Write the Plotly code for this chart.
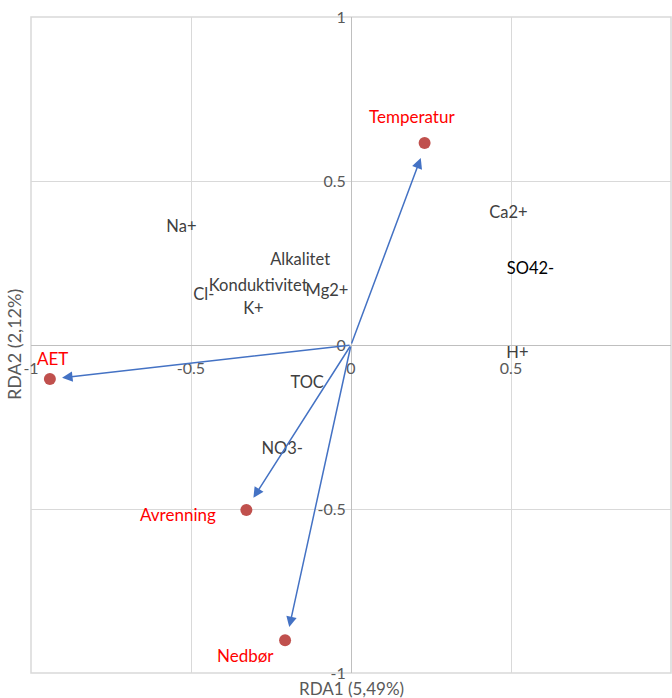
import plotly.graph_objects as go

# Response variables (species scores)
species = ["Na+", "Ca2+", "Alkalitet", "SO42-", "Cl-", "Konduktivitet",
           "Mg2+", "K+", "H+", "TOC", "NO3-"]
species_x = [-0.53, 0.492, -0.159, 0.561, -0.46, -0.29, -0.075, -0.305, 0.52, -0.137, -0.215]
species_y = [0.357, 0.40, 0.256, 0.229, 0.149, 0.177, 0.162, 0.107, -0.027, -0.119, -0.32]

# Explanatory variables
env = ["Temperatur", "AET", "Avrenning", "Nedbør"]
env_x = [0.23, -0.941, -0.327, -0.206]
env_y = [0.616, -0.104, -0.503, -0.90]

# Arrow tips for the explanatory vectors
arrow_x = [0.218, -0.903, -0.305, -0.193]
arrow_y = [0.57, -0.10, -0.466, -0.86]

# Tick values and their labels
tick_vals = [-1, -0.5, 0, 0.5, 1]
tick_text = ["-1", "-0.5", "0", "0.5", "1"]

FONT = "Lato"
GRID = "#d9d9d9"
BLUE = "#4472c4"
DOT = "#c0504d"
LABEL_RED = "#ff0000"
AXIS_TEXT = "#595959"

fig = go.Figure()

# species labels
species_colors = ["#404040"] * len(species)
species_colors[species.index("SO42-")] = "#000000"
fig.add_trace(go.Scatter(
    x=species_x, y=species_y, mode="text", text=species,
    textposition="middle center",
    textfont=dict(family=FONT, size=16.5, color=species_colors),
    hoverinfo="text", showlegend=False,
))

# environmental points
fig.add_trace(go.Scatter(
    x=env_x, y=env_y, mode="markers",
    marker=dict(size=12, color=DOT),
    hoverinfo="text", text=env, showlegend=False,
))

# vectors from origin
for ax_, ay_ in zip(arrow_x, arrow_y):
    fig.add_annotation(
        x=ax_, y=ay_, ax=0, ay=0, xref="x", yref="y", axref="x", ayref="y",
        showarrow=True, arrowhead=2, arrowsize=1.4, arrowwidth=1.5,
        arrowcolor=BLUE, text="",
    )

# labels for the environmental points (pixel offsets from the dots)
label_offsets = {
    "Temperatur": (-13, 26),
    "AET": (3, 21),
    "Avrenning": (-68, -5),
    "Nedbør": (-40, -15),
}
for name, x, y in zip(env, env_x, env_y):
    dx, dy = label_offsets[name]
    fig.add_annotation(
        x=x, y=y, xref="x", yref="y", text=name, showarrow=False,
        xshift=dx, yshift=dy, font=dict(family=FONT, size=17, color=LABEL_RED),
    )

axis_common = dict(
    range=[-1, 1], tickmode="array", tickvals=tick_vals, ticktext=tick_text,
    showgrid=True, gridcolor=GRID, gridwidth=1,
    zeroline=False, showline=True, linecolor="#bfbfbf", linewidth=1,
    anchor="free", position=0.5, ticks="",
    tickfont=dict(family=FONT, size=16, color=AXIS_TEXT),
    fixedrange=True,
)

fig.update_layout(
    width=672, height=698,
    margin=dict(l=31, r=1, t=17, b=25),
    paper_bgcolor="white", plot_bgcolor="white",
    xaxis=dict(**axis_common, ticklabelstandoff=9),
    yaxis=dict(**axis_common, ticklabelstandoff=2),
    showlegend=False,
)

# outer frame of the plot area
fig.add_shape(type="rect", xref="paper", yref="paper", x0=0, y0=0, x1=1, y1=1,
              line=dict(color=GRID, width=1.5), layer="below")

# axis titles at the plot edges
fig.add_annotation(
    x=0.5, y=0, xref="paper", yref="paper", yanchor="middle", yshift=-15,
    text="RDA1 (5,49%)", showarrow=False, borderpad=0,
    font=dict(family=FONT, size=17, color=AXIS_TEXT),
)
fig.add_annotation(
    x=0, y=0.5, xref="paper", yref="paper", xanchor="right", xshift=-4,
    text="RDA2 (2,12%)", textangle=-90, showarrow=False,
    font=dict(family=FONT, size=18, color=AXIS_TEXT),
)

fig.write_html("out.html")
